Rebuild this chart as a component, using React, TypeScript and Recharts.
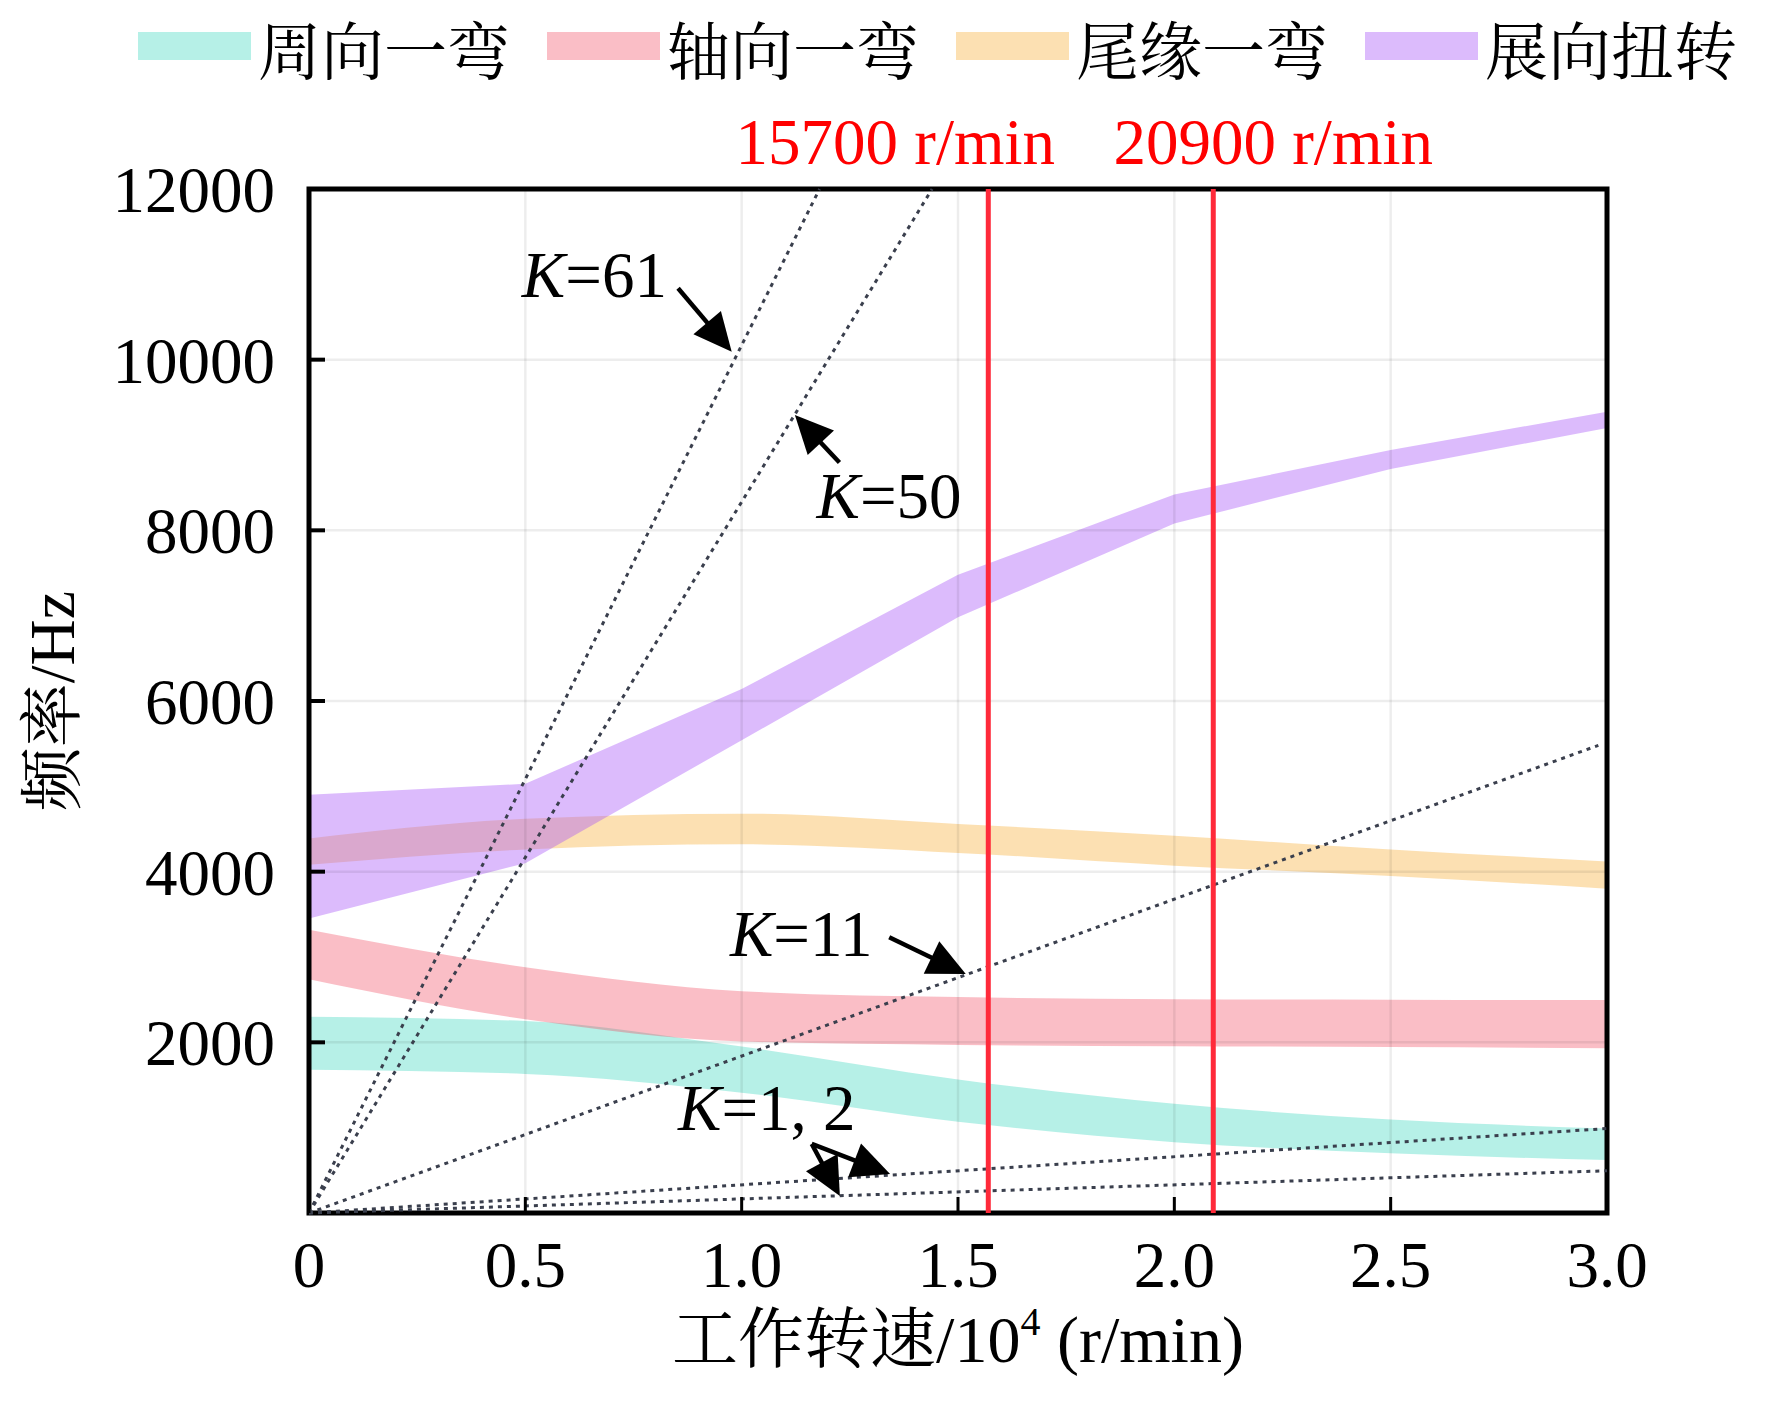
import React from "react";
import {
  ComposedChart,
  Area,
  Line,
  XAxis,
  YAxis,
  ReferenceLine,
  ReferenceArea,
  ReferenceDot,
} from "recharts";

// rotating speed, 10^4 r/min
const speeds = [0, 0.5, 1.0, 1.5, 2.0, 2.5, 3.0];

// frequency bands [low, high] in Hz
const circumBend = [[1680, 2300], [1630, 2250], [1410, 1950], [1070, 1565], [830, 1280], [700, 1095], [620, 990]];
const axialBend = [[2740, 3320], [2270, 2880], [2010, 2600], [1970, 2530], [1955, 2505], [1945, 2500], [1930, 2495]];
const trailingBend = [[4080, 4390], [4260, 4620], [4320, 4680], [4220, 4560], [4070, 4420], [3950, 4260], [3800, 4120]];
const spanTorsion = [[3450, 4900], [4100, 5030], [5540, 6140], [6980, 7480], [8080, 8420], [8720, 8940], [9200, 9390]];

// excitation order lines (end points)
const k61 = [{ x: 0, y: 0 }, { x: 1.18, y: 12000 }];
const k50 = [{ x: 0, y: 0 }, { x: 1.44, y: 12000 }];
const k11 = [{ x: 0, y: 0 }, { x: 2.98, y: 5480 }];
const k2 = [{ x: 0, y: 0 }, { x: 3.0, y: 990 }];
const k1 = [{ x: 0, y: 0 }, { x: 3.0, y: 495 }];

const criticalSpeeds = [1.57, 2.09];
const criticalLabels = ["15700 r/min", "20900 r/min"];

const xTicks = [0, 0.5, 1.0, 1.5, 2.0, 2.5, 3.0];
const yTicks = [2000, 4000, 6000, 8000, 10000, 12000];
const xGrid = [0.5, 1.0, 1.5, 2.0, 2.5];
const yGrid = [2000, 4000, 6000, 8000, 10000];

const seriesNames = ["周向一弯", "轴向一弯", "尾缘一弯", "展向扭转"];
const seriesKeys = ["circ", "axial", "trail", "torsion"];
const seriesColors = ["#2ed3b9", "#f2455d", "#f5a623", "#a855f7"];
const seriesOpacity = [0.35, 0.35, 0.35, 0.4];

// annotation texts and arrows, in data units
const kLabels = [
  { text: "=61", x: 0.492, y: 10736 },
  { text: "=50", x: 1.173, y: 8142 },
  { text: "=11", x: 0.973, y: 3012 },
  { text: "=1, 2", x: 0.853, y: 973 },
];
const kArrows = [
  [{ x: 0.853, y: 10837 }, { x: 0.977, y: 10094 }],
  [{ x: 1.226, y: 8794 }, { x: 1.123, y: 9352 }],
  [{ x: 1.341, y: 3231 }, { x: 1.518, y: 2801 }],
  [{ x: 1.162, y: 809 }, { x: 1.227, y: 199 }],
  [{ x: 1.162, y: 809 }, { x: 1.343, y: 457 }],
];

const SERIF = "'Liberation Serif', 'Times New Roman', serif";
const CJK = "'Liberation Serif', 'Noto Serif CJK SC', 'Noto Sans CJK SC', serif";

const data = speeds.map((x, i) => ({
  x,
  circ: circumBend[i],
  axial: axialBend[i],
  trail: trailingBend[i],
  torsion: spanTorsion[i],
}));

const ArrowShape = (props: any) => {
  const { x1, y1, x2, y2 } = props;
  const dx = x2 - x1;
  const dy = y2 - y1;
  const len = Math.hypot(dx, dy) || 1;
  const ux = dx / len;
  const uy = dy / len;
  const head = 38;
  const half = 18;
  const bx = x2 - ux * head;
  const by = y2 - uy * head;
  return (
    <g>
      <line x1={x1} y1={y1} x2={bx + ux * 2} y2={by + uy * 2} stroke="#000" strokeWidth={4.5} />
      <polygon
        points={`${x2},${y2} ${bx - uy * half},${by + ux * half} ${bx + uy * half},${by - ux * half}`}
        fill="#000"
      />
    </g>
  );
};

const kText = (text: string) => (props: any) => (
  <text x={props.cx} y={props.cy} fontSize={65} fontFamily={SERIF} fill="#000">
    <tspan fontStyle="italic">K</tspan>
    {text}
  </text>
);

const redText = (text: string, dx: number) => (props: any) => (
  <text x={props.cx + dx} y={props.cy - 25} fontSize={65} fontFamily={SERIF} fill="#ff0000" textAnchor="middle">
    {text}
  </text>
);

const Legend4 = () => (
  <div style={{ position: "absolute", left: 130, top: 0, display: "flex", alignItems: "flex-start" }}>
    {seriesNames.map((name, i) => (
      <div
        key={name}
        style={{
          display: "flex",
          alignItems: "flex-start",
          width: i < seriesNames.length - 1 ? 409 : "auto",
        }}
      >
        <div
          style={{
            width: 113,
            height: 28,
            marginTop: 24,
            marginRight: 7,
            flex: "none",
            background: seriesColors[i],
            opacity: seriesOpacity[i],
          }}
        />
        <span
          style={{
            display: "block",
            paddingTop: 7,
            lineHeight: "63px",
            fontSize: 63,
            whiteSpace: "nowrap",
            fontFamily: "'Noto Serif CJK SC', 'Noto Sans CJK SC', sans-serif",
            color: "#000",
          }}
        >
          {name}
        </span>
      </div>
    ))}
  </div>
);

export default function App() {
  return (
    <div style={{ position: "relative", width: 1756, height: 1397, background: "#fff" }}>
      <ComposedChart
        width={1756}
        height={1397}
        data={data}
        margin={{ top: 181, right: 157, bottom: 0, left: 0 }}
      >
        <XAxis
          dataKey="x"
          type="number"
          domain={[0, 3]}
          ticks={xTicks}
          height={192}
          axisLine={false}
          tickSize={-16}
          tickMargin={44}
          tickLine={{ stroke: "#000", strokeWidth: 3 }}
          tick={{ fontSize: 65, fill: "#000", fontFamily: SERIF }}
          tickFormatter={(v: number) => (v === 0 ? "0" : v.toFixed(1))}
          interval={0}
          label={(p: any) => {
            const vb = p.viewBox;
            return (
              <text x={vb.x + vb.width / 2} y={vb.y + 149} textAnchor="middle" fontSize={66} fontFamily={CJK} fill="#000">
                工作转速/10
                <tspan fontSize={40} dy={-27}>4</tspan>
                <tspan dy={27}> (r/min)</tspan>
              </text>
            );
          }}
        />
        <YAxis
          type="number"
          domain={[0, 12000]}
          ticks={yTicks}
          width={301}
          axisLine={false}
          tickSize={-16}
          tickMargin={50}
          tickLine={{ stroke: "#000", strokeWidth: 4 }}
          tick={{ fontSize: 65, fill: "#000", fontFamily: SERIF }}
          interval={0}
          label={(p: any) => {
            const vb = p.viewBox;
            const cx = vb.x + 66;
            const cy = vb.y + vb.height / 2;
            return (
              <text
                x={cx}
                y={cy}
                transform={`rotate(-90, ${cx}, ${cy})`}
                textAnchor="middle"
                fontSize={64}
                fontFamily={CJK}
                fill="#000"
              >
                频率/Hz
              </text>
            );
          }}
        />

        {seriesKeys.map((k, i) => (
          <Area
            key={k}
            dataKey={k}
            type={k === "torsion" ? "linear" : "monotone"}
            stroke="none"
            fill={seriesColors[i]}
            fillOpacity={seriesOpacity[i]}
            isAnimationActive={false}
            dot={false}
            activeDot={false}
          />
        ))}

        {xGrid.map((v) => (
          <ReferenceLine key={`gx${v}`} x={v} stroke="#000" strokeOpacity={0.07} strokeWidth={2.5} />
        ))}
        {yGrid.map((v) => (
          <ReferenceLine key={`gy${v}`} y={v} stroke="#000" strokeOpacity={0.07} strokeWidth={2.5} />
        ))}

        {[k61, k50, k11, k2, k1].map((pts, i) => (
          <Line
            key={`k${i}`}
            data={pts}
            dataKey="y"
            type="linear"
            stroke="#3a3f4d"
            strokeWidth={3}
            strokeDasharray="4 5"
            dot={false}
            activeDot={false}
            isAnimationActive={false}
          />
        ))}

        {criticalSpeeds.map((v) => (
          <ReferenceLine key={`c${v}`} x={v} stroke="#ff2a3a" strokeWidth={5} />
        ))}

        <ReferenceArea x1={0} x2={3} y1={0} y2={12000} fill="none" stroke="#000" strokeWidth={5} />

        {kArrows.map((seg, i) => (
          <ReferenceLine key={`a${i}`} segment={seg} shape={ArrowShape} />
        ))}
        {kLabels.map((l) => (
          <ReferenceDot key={l.text} x={l.x} y={l.y} r={0} shape={kText(l.text)} />
        ))}
        {criticalSpeeds.map((v, i) => (
          <ReferenceDot key={`rl${v}`} x={v} y={12000} r={0} shape={redText(criticalLabels[i], i === 0 ? -93 : 60)} />
        ))}
      </ComposedChart>
      <Legend4 />
    </div>
  );
}
